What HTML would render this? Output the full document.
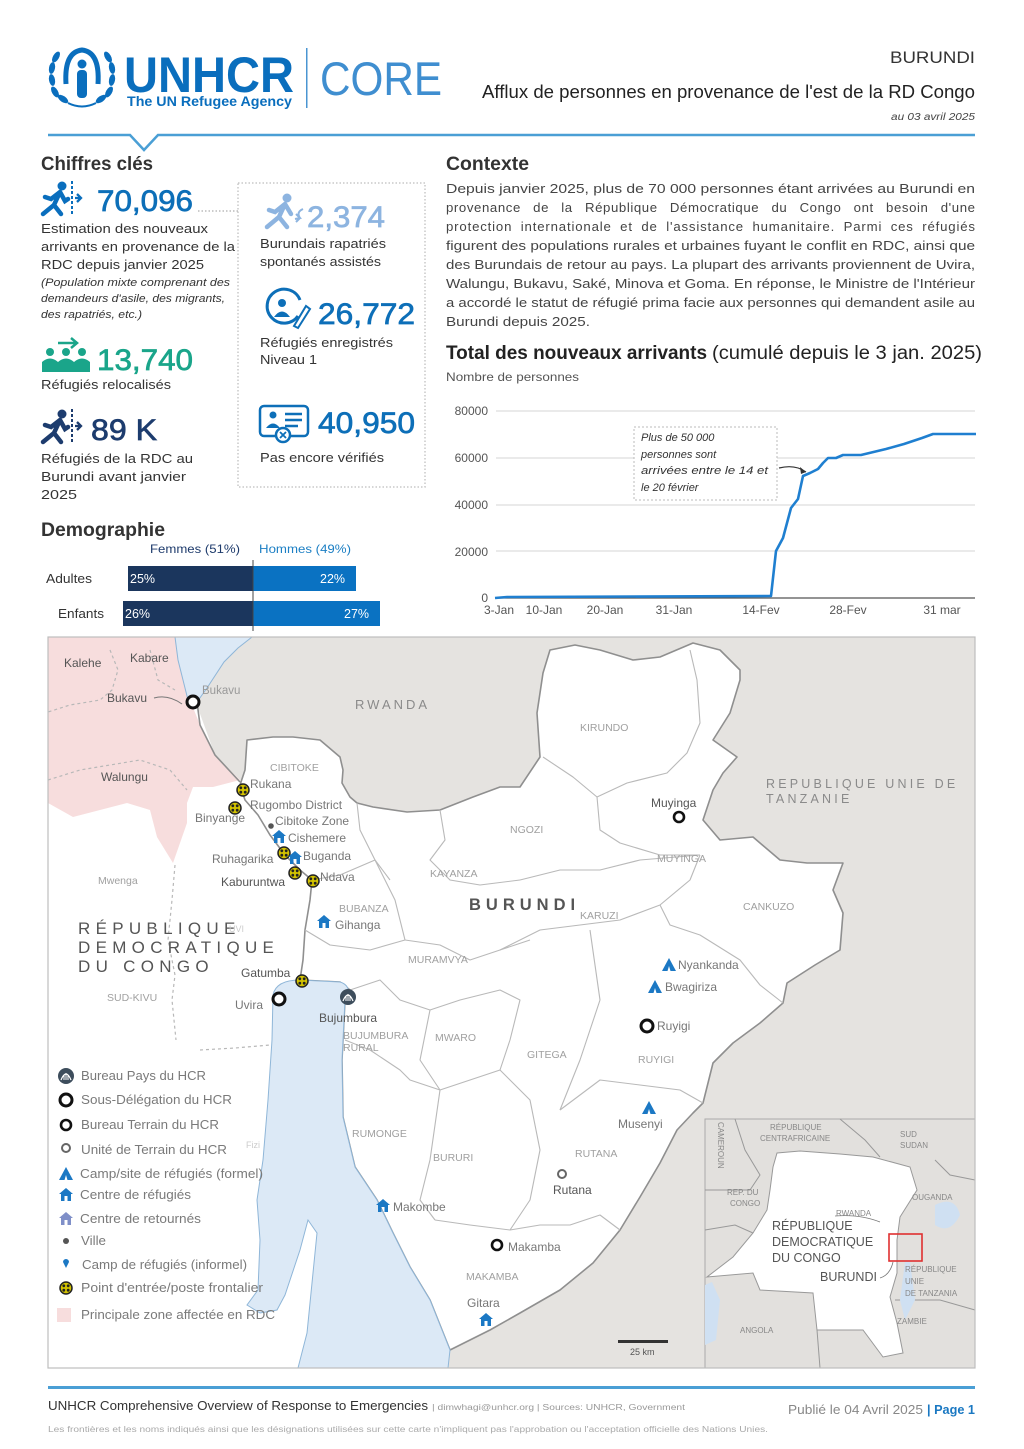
<!DOCTYPE html>
<html><head><meta charset="utf-8"><style>
html,body{margin:0;padding:0;background:#fff;}
svg{display:block;font-family:"Liberation Sans",sans-serif;}
</style></head><body>
<svg width="1024" height="1449" viewBox="0 0 1024 1449" xmlns="http://www.w3.org/2000/svg">
<defs>
 <g id="bp"><circle r="6" fill="#d2c200" stroke="#222" stroke-width="1.5"/><circle cx="-2.2" cy="-2.2" r="1.4" fill="#222"/><circle cx="2.2" cy="-2.2" r="1.4" fill="#222"/><circle cx="-2.2" cy="2.2" r="1.4" fill="#222"/><circle cx="2.2" cy="2.2" r="1.4" fill="#222"/></g>
 <g id="ring"><circle r="6" fill="#fff" stroke="#111" stroke-width="3"/></g>
 <g id="ringm"><circle r="5" fill="#fff" stroke="#111" stroke-width="2.6"/></g>
 <g id="ringu"><circle r="4" fill="#fff" stroke="#666" stroke-width="2"/></g>
 <g id="house"><path d="M-7,-1 L0,-7 L7,-1 L5,-1 L5,6 L1.5,6 L1.5,1 L-1.5,1 L-1.5,6 L-5,6 L-5,-1 Z" fill="#1b78c4"/></g>
 <g id="houser"><path d="M-7,-1 L0,-7 L7,-1 L5,-1 L5,6 L1.5,6 L1.5,1 L-1.5,1 L-1.5,6 L-5,6 L-5,-1 Z" fill="#7f8fc8"/></g>
 <g id="tent"><path d="M-7,6 L0,-7 L7,6 Z" fill="#1b78c4"/><path d="M-1.5,6 L0,1 L1.5,6 Z" fill="#fff"/></g>
 <g id="hq"><circle r="8" fill="#3d4d5c"/><path d="M-5,4 Q0,-8 5,4" stroke="#fff" stroke-width="1.2" fill="none"/><path d="M-2,4 V-1 M0,4 V-3 M2,4 V-1" stroke="#fff" stroke-width="1"/></g>
 <g id="walker">
  <circle cx="22" cy="5" r="4.5" stroke="none"/>
  <path d="M20,11 L11,18 L5,16 M20,11 L14,24 L3,33 M14,24 L21,33 M20,11 L25,20 L28,18" fill="none" stroke-width="4.5" stroke-linecap="round"/>
  <path d="M32,0 V33" stroke-width="2" stroke-dasharray="3,2" fill="none"/>
  <path d="M35,17 H41 M37,13 L41,17 L37,21" fill="none" stroke-width="2.3"/>
 </g>
</defs>

<!-- ===== HEADER ===== -->
<g fill="#0a6ebd">
 <g fill="#0a6ebd">
  <ellipse cx="55" cy="92" rx="3" ry="6" transform="rotate(-30 55 92)"/>
  <ellipse cx="52" cy="80" rx="3" ry="6" transform="rotate(-10 52 80)"/>
  <ellipse cx="52" cy="68" rx="3" ry="6" transform="rotate(10 52 68)"/>
  <ellipse cx="56" cy="57" rx="3" ry="6" transform="rotate(30 56 57)"/>
  <ellipse cx="63" cy="99" rx="3" ry="6" transform="rotate(-55 63 99)"/>
  <ellipse cx="109" cy="92" rx="3" ry="6" transform="rotate(30 109 92)"/>
  <ellipse cx="112" cy="80" rx="3" ry="6" transform="rotate(10 112 80)"/>
  <ellipse cx="112" cy="68" rx="3" ry="6" transform="rotate(-10 112 68)"/>
  <ellipse cx="108" cy="57" rx="3" ry="6" transform="rotate(-30 108 57)"/>
  <ellipse cx="101" cy="99" rx="3" ry="6" transform="rotate(55 101 99)"/>
  <path d="M68,103 Q82,110 96,103" stroke="#0a6ebd" stroke-width="2" fill="none"/>
  <path d="M66,84 Q64,52 82,50 Q100,52 98,84" stroke="#0a6ebd" stroke-width="5" fill="none"/>
  <circle cx="82" cy="64" r="4.5"/>
  <rect x="77" y="70" width="10" height="28" rx="4"/>
 </g>
 <text x="124" y="92" font-size="50" font-weight="bold" textLength="170" lengthAdjust="spacingAndGlyphs">UNHCR</text>
 <text x="127" y="106" font-size="14" font-weight="bold" textLength="165" lengthAdjust="spacingAndGlyphs">The UN Refugee Agency</text>
</g>
<rect x="306" y="48" width="1.5" height="60" fill="#4a95d2"/>
<text x="320" y="95" font-size="47" fill="#3f8ed0" textLength="122" lengthAdjust="spacingAndGlyphs">CORE</text>

<text x="975" y="63" font-size="17" fill="#333" text-anchor="end" textLength="85" lengthAdjust="spacingAndGlyphs">BURUNDI</text>
<text x="482" y="98" font-size="18.5" fill="#222" textLength="493" lengthAdjust="spacingAndGlyphs">Afflux de personnes en provenance de l'est de la RD Congo</text>
<text x="891" y="120" font-size="10" font-style="italic" fill="#444" textLength="84" lengthAdjust="spacingAndGlyphs">au 03 avril 2025</text>
<polyline points="48,135 130,135 144,150 158,135 975,135" fill="none" stroke="#4a9fd5" stroke-width="2.5"/>

<!-- ===== KEY FIGURES ===== -->
<text x="41" y="170" font-size="19" font-weight="bold" fill="#333" textLength="112" lengthAdjust="spacingAndGlyphs">Chiffres clés</text>
<use href="#walker" x="40" y="181" fill="#0a6ebd" stroke="#0a6ebd"/>
<text x="97" y="211" font-size="30" fill="#0d6fb8" stroke="#0d6fb8" stroke-width="0.7" textLength="96" lengthAdjust="spacingAndGlyphs">70,096</text>
<line x1="198" y1="211" x2="238" y2="211" stroke="#bbb" stroke-width="1.5" stroke-dasharray="1.5,2"/>
<g font-size="13" fill="#333">
<text x="41" y="233" textLength="167" lengthAdjust="spacingAndGlyphs">Estimation des nouveaux</text>
<text x="41" y="251" textLength="194" lengthAdjust="spacingAndGlyphs">arrivants en provenance de la</text>
<text x="41" y="269" textLength="163" lengthAdjust="spacingAndGlyphs">RDC depuis janvier 2025</text>
</g>
<g font-size="11" font-style="italic" fill="#333">
<text x="41" y="286" textLength="189" lengthAdjust="spacingAndGlyphs">(Population mixte comprenant des</text>
<text x="41" y="302" textLength="184" lengthAdjust="spacingAndGlyphs">demandeurs d'asile, des migrants,</text>
<text x="41" y="318" textLength="101" lengthAdjust="spacingAndGlyphs">des rapatriés, etc.)</text>
</g>
<g fill="#1aa58a" stroke="#1aa58a">
 <path d="M58,343 H76 M71,338 L77,343 L71,348" fill="none" stroke-width="2.5"/>
 <circle cx="50" cy="352" r="4" stroke="none"/><circle cx="66" cy="352" r="4" stroke="none"/><circle cx="82" cy="352" r="4" stroke="none"/>
 <path d="M42,362 Q50,355 58,362 V372 H42 Z M58,362 Q66,355 74,362 V372 H58 Z M74,362 Q82,355 90,362 V372 H74 Z" stroke="none"/>
</g>
<text x="97" y="370" font-size="30" fill="#1aa58a" stroke="#1aa58a" stroke-width="0.7" textLength="96" lengthAdjust="spacingAndGlyphs">13,740</text>
<text x="41" y="389" font-size="13" fill="#333" textLength="130" lengthAdjust="spacingAndGlyphs">Réfugiés relocalisés</text>
<use href="#walker" x="40" y="409" fill="#1d3c6e" stroke="#1d3c6e"/>
<text x="91" y="440" font-size="30" fill="#1d3c6e" stroke="#1d3c6e" stroke-width="0.7" textLength="66" lengthAdjust="spacingAndGlyphs">89 K</text>
<g font-size="13" fill="#333">
<text x="41" y="463" textLength="152" lengthAdjust="spacingAndGlyphs">Réfugiés de la RDC au</text>
<text x="41" y="481" textLength="145" lengthAdjust="spacingAndGlyphs">Burundi avant janvier</text>
<text x="41" y="499" textLength="36" lengthAdjust="spacingAndGlyphs">2025</text>
</g>

<rect x="238" y="183" width="187" height="304" fill="none" stroke="#c8c8c8" stroke-width="1.5" stroke-dasharray="1.5,2"/>
<g fill="#8db4e0" stroke="#8db4e0">
 <circle cx="287" cy="198" r="4.5" stroke="none"/>
 <path d="M285,204 L275,212 L269,210 M285,204 L279,217 L267,227 M279,217 L287,227 M285,204 L291,214" fill="none" stroke-width="4.5" stroke-linecap="round"/>
 <path d="M303,209 Q296,212 300,218 L296,222 M296,214 L300,218 L295,219" fill="none" stroke-width="2"/>
</g>
<text x="307" y="227" font-size="30" fill="#8db4e0" stroke="#8db4e0" stroke-width="0.7" textLength="78" lengthAdjust="spacingAndGlyphs">2,374</text>
<g font-size="13" fill="#333">
<text x="260" y="248" textLength="126" lengthAdjust="spacingAndGlyphs">Burundais rapatriés</text>
<text x="260" y="266" textLength="121" lengthAdjust="spacingAndGlyphs">spontanés assistés</text>
</g>
<g fill="none" stroke="#0d6fb8" stroke-width="3">
 <path d="M298,316 A17,17 0 1 1 300,300"/>
 <circle cx="282" cy="303" r="4" fill="#0d6fb8" stroke="none"/>
 <path d="M274,317 Q282,306 290,317 Z" fill="#0d6fb8" stroke="none"/>
 <path d="M294,326 L306,306 L310,309 L298,328 Z" stroke-width="2"/>
</g>
<text x="318" y="324" font-size="30" fill="#0d6fb8" stroke="#0d6fb8" stroke-width="0.7" textLength="97" lengthAdjust="spacingAndGlyphs">26,772</text>
<g font-size="13" fill="#333">
<text x="260" y="347" textLength="133" lengthAdjust="spacingAndGlyphs">Réfugiés enregistrés</text>
<text x="260" y="364" textLength="57" lengthAdjust="spacingAndGlyphs">Niveau 1</text>
</g>
<g fill="none" stroke="#0d6fb8" stroke-width="2.5">
 <rect x="260" y="406" width="48" height="30" rx="4"/>
 <circle cx="273" cy="415" r="3.5" fill="#0d6fb8" stroke="none"/>
 <path d="M266,428 Q273,419 280,428 Z" fill="#0d6fb8" stroke="none"/>
 <path d="M285,414 H302 M285,420 H302 M285,426 H298"/>
 <circle cx="283" cy="435" r="7" fill="#fff"/>
 <path d="M280,432 L286,438 M286,432 L280,438" stroke-width="1.8"/>
</g>
<text x="318" y="433" font-size="30" fill="#0d6fb8" stroke="#0d6fb8" stroke-width="0.7" textLength="97" lengthAdjust="spacingAndGlyphs">40,950</text>
<text x="260" y="462" font-size="13" fill="#333" textLength="124" lengthAdjust="spacingAndGlyphs">Pas encore vérifiés</text>

<!-- ===== DEMOGRAPHIE ===== -->
<text x="41" y="536" font-size="19" font-weight="bold" fill="#333" textLength="124" lengthAdjust="spacingAndGlyphs">Demographie</text>
<text x="150" y="553" font-size="12" fill="#1d3a6b" textLength="90" lengthAdjust="spacingAndGlyphs">Femmes (51%)</text>
<text x="259" y="553" font-size="12" fill="#1c7fc4" textLength="92" lengthAdjust="spacingAndGlyphs">Hommes (49%)</text>
<rect x="128" y="566" width="125" height="25" fill="#1b365d"/>
<rect x="253" y="566" width="103" height="25" fill="#0a72c2"/>
<rect x="123" y="601" width="130" height="25" fill="#1b365d"/>
<rect x="253" y="601" width="127" height="25" fill="#0a72c2"/>
<line x1="253" y1="560" x2="253" y2="631" stroke="#444" stroke-width="1"/>
<g font-size="12.5">
<text x="46" y="583" fill="#333" textLength="46" lengthAdjust="spacingAndGlyphs">Adultes</text>
<text x="58" y="618" fill="#333" textLength="46" lengthAdjust="spacingAndGlyphs">Enfants</text>
<text x="130" y="583" fill="#fff">25%</text>
<text x="320" y="583" fill="#fff">22%</text>
<text x="125" y="618" fill="#fff">26%</text>
<text x="344" y="618" fill="#fff">27%</text>
</g>

<!-- ===== CONTEXTE ===== -->
<text x="446" y="170" font-size="19" font-weight="bold" fill="#333" textLength="83" lengthAdjust="spacingAndGlyphs">Contexte</text>
<g font-size="13.2" fill="#444">
<text x="446" y="193" textLength="529" lengthAdjust="spacingAndGlyphs">Depuis janvier 2025, plus de 70 000 personnes étant arrivées au Burundi en</text>
<text x="446" y="212" word-spacing="8" textLength="529" lengthAdjust="spacing">provenance de la République Démocratique du Congo ont besoin d'une</text>
<text x="446" y="231" word-spacing="4" textLength="529" lengthAdjust="spacing">protection internationale et de l'assistance humanitaire. Parmi ces réfugiés</text>
<text x="446" y="250" textLength="529" lengthAdjust="spacingAndGlyphs">figurent des populations rurales et urbaines fuyant le conflit en RDC, ainsi que</text>
<text x="446" y="269" textLength="529" lengthAdjust="spacingAndGlyphs">des Burundais de retour au pays. La plupart des arrivants proviennent de Uvira,</text>
<text x="446" y="288" textLength="529" lengthAdjust="spacingAndGlyphs">Walungu, Bukavu, Saké, Minova et Goma. En réponse, le Ministre de l'Intérieur</text>
<text x="446" y="307" textLength="529" lengthAdjust="spacingAndGlyphs">a accordé le statut de réfugié prima facie aux personnes qui demandent asile au</text>
<text x="446" y="326" textLength="144" lengthAdjust="spacingAndGlyphs">Burundi depuis 2025.</text>
</g>
<text x="446" y="359" font-size="19" font-weight="bold" fill="#222" textLength="261" lengthAdjust="spacingAndGlyphs">Total des nouveaux arrivants</text>
<text x="712" y="359" font-size="19" fill="#222" textLength="270" lengthAdjust="spacingAndGlyphs">(cumulé depuis le 3 jan. 2025)</text>
<text x="446" y="381" font-size="12" fill="#555" textLength="133" lengthAdjust="spacingAndGlyphs">Nombre de personnes</text>

<!-- ===== CHART ===== -->
<g stroke="#dedede" stroke-width="1.2">
 <line x1="496" y1="411" x2="975" y2="411"/>
 <line x1="496" y1="458" x2="975" y2="458"/>
 <line x1="496" y1="505" x2="975" y2="505"/>
 <line x1="496" y1="551" x2="975" y2="551"/>
</g>
<line x1="496" y1="598" x2="975" y2="598" stroke="#555" stroke-width="1.2"/>
<g font-size="12" fill="#555" text-anchor="end">
 <text x="488" y="415">80000</text>
 <text x="488" y="462">60000</text>
 <text x="488" y="509">40000</text>
 <text x="488" y="556">20000</text>
 <text x="488" y="602">0</text>
</g>
<g font-size="12" fill="#555" text-anchor="middle">
 <text x="499" y="614">3-Jan</text>
 <text x="544" y="614">10-Jan</text>
 <text x="605" y="614">20-Jan</text>
 <text x="674" y="614">31-Jan</text>
 <text x="761" y="614">14-Fev</text>
 <text x="848" y="614">28-Fev</text>
 <text x="942" y="614">31 mar</text>
</g>
<polyline fill="none" stroke="#1f7fd0" stroke-width="2.6" stroke-linejoin="round" points="495,598 507,597 771,596 776,551 783,538 791,508 798,499 803,476 810,473 818,469 823,463 828,458 836,458 843,455 861,455 886,449 904,444 922,438 933,434 976,434"/>
<rect x="634" y="427" width="143" height="73" fill="#fff" stroke="#bbb" stroke-dasharray="2,2"/>
<g font-size="11" font-style="italic" fill="#333">
 <text x="641" y="441">Plus de 50 000</text>
 <text x="641" y="458">personnes sont</text>
 <text x="641" y="474" textLength="127" lengthAdjust="spacingAndGlyphs">arrivées entre le 14 et</text>
 <text x="641" y="491">le 20 février</text>
</g>
<path d="M779,468 Q795,464 806,472" fill="none" stroke="#333" stroke-width="1.2"/>
<path d="M806,472 L800,467 L801,474 Z" fill="#333"/>

<!-- ===== MAP ===== -->
<g>
 <rect x="48" y="637" width="927" height="731" fill="#e5e3e0"/>
 <polygon fill="#fff" points="48,637 178,637 195,700 215,755 242,782 258,815 270,835 285,855 300,870 312,880 310,900 305,930 303,960 300,980 290,1000 300,1200 320,1220 320,1368 48,1368"/>
 <polygon fill="#f7dddd" points="48,637 178,637 183,680 190,700 200,725 215,755 240,780 213,787 193,787 187,803 187,823 180,843 173,863 157,837 150,810 127,803 100,810 73,817 48,803"/>
 <g fill="none" stroke="#b8b8b8" stroke-width="1.2" stroke-dasharray="3,3">
  <polyline points="110,650 118,670 112,690 100,700 70,705 48,712"/>
  <polyline points="48,780 80,770 110,765 140,760 170,770 187,790"/>
  <polyline points="175,865 172,900 168,940 175,975 172,1000 176,1040"/>
  <polyline points="200,1050 235,1048 270,1045"/>
  <polyline points="150,650 158,680 175,690"/>
 </g>
 <polygon fill="#fff" stroke="#8f8f8f" stroke-width="1.6" stroke-linejoin="round" points="247,740 273,737 293,737 320,740 340,757 343,770 342,783 350,797 357,803 373,807 407,812 440,810 473,797 500,787 520,787 540,757 537,713 543,673 550,650 575,645 600,650 633,660 660,657 693,643 720,650 740,670 740,680 730,713 713,740 737,757 723,773 713,790 703,820 720,840 753,837 780,860 807,863 843,863 833,890 843,913 840,950 815,965 787,983 783,1003 760,1023 733,1043 713,1063 703,1103 693,1113 677,1130 660,1163 640,1197 620,1230 593,1263 560,1290 520,1313 490,1330 450,1350 430,1300 410,1267 393,1233 377,1200 355,1167 343,1117 342,1060 345,1000 350,990 340,982 300,980 303,960 305,930 310,900 312,880 300,870 285,855 270,835 258,815 245,800 240,785 245,770"/>
 <polyline fill="none" stroke="#8f8f8f" stroke-width="1.6" points="197,702 200,725 215,755 240,782"/>
 <g fill="none" stroke="#b9b9b9" stroke-width="1.1" stroke-linejoin="round">
  <polyline points="357,803 360,830 375,860 390,880"/>
  <polyline points="312,880 340,875 375,860"/>
  <polyline points="375,860 395,900 405,940"/>
  <polyline points="305,930 330,945 370,950 405,940"/>
  <polyline points="405,940 440,945 470,960 500,950 530,940"/>
  <polyline points="440,810 445,840 430,860 450,880 480,885 520,880"/>
  <polyline points="543,757 573,777 597,797 627,783 667,773 687,753 700,723 697,680 690,650"/>
  <polyline points="597,797 600,830 620,843 660,855 700,855"/>
  <polyline points="520,880 560,870 600,870 640,860 700,855"/>
  <polyline points="500,950 540,930 580,925 620,920 660,905 690,880 700,855"/>
  <polyline points="660,905 670,925 700,935 740,960 760,985 783,1003"/>
  <polyline points="350,990 380,980 400,1000 430,1010 420,1060 440,1090"/>
  <polyline points="430,1010 460,1000 500,990 520,1000 510,1040 500,1070"/>
  <polyline points="345,1040 370,1050 400,1070 410,1080 440,1090"/>
  <polyline points="440,1090 430,1160 420,1200 435,1220"/>
  <polyline points="500,1070 530,1100 540,1150 530,1200 510,1230"/>
  <polyline points="590,930 600,1000 580,1060 560,1110"/>
  <polyline points="560,1110 600,1080 640,1085 680,1090 703,1103"/>
  <polyline points="435,1220 470,1225 510,1230 540,1225 570,1225 600,1215 620,1230"/>
  <polyline points="500,1070 470,1080 440,1090"/>
 </g>
 <polygon fill="#dce9f6" stroke="#8fb6d8" stroke-width="1" points="175,637 252,637 238,648 224,662 207,688 197,702 188,700 183,680 178,660"/>
 <path fill="#dce9f6" stroke="#8fb6d8" stroke-width="1" d="M273,995 Q276,980 300,980 L340,982 Q350,985 348,995 L345,1000 L342,1060 L343,1117 L355,1167 L377,1200 L393,1233 L410,1267 L430,1300 L450,1350 L448,1368 L298,1368 L307,1333 L317,1233 L308,1220 L300,1250 L285,1295 L277,1310 L260,1313 L247,1305 L258,1290 L260,1240 L257,1200 L263,1160 L268,1100 L272,1040 Z"/>

 <g font-size="12" fill="#555">
  <text x="64" y="667">Kalehe</text>
  <text x="130" y="662">Kabare</text>
  <text x="107" y="702">Bukavu</text>
  <text x="101" y="781">Walungu</text>
 </g>
 <path d="M154,698 Q168,694 182,704" fill="none" stroke="#777" stroke-width="1"/>
 <text x="202" y="694" font-size="11.5" fill="#999">Bukavu</text>
 <text x="355" y="709" font-size="13" fill="#8a8a8a" letter-spacing="3">RWANDA</text>
 <g font-size="10.5" fill="#a0a0a0">
  <text x="270" y="771">CIBITOKE</text>
  <text x="580" y="731">KIRUNDO</text>
  <text x="510" y="833">NGOZI</text>
  <text x="657" y="862">MUYINGA</text>
  <text x="430" y="877">KAYANZA</text>
  <text x="580" y="919">KARUZI</text>
  <text x="743" y="910">CANKUZO</text>
  <text x="339" y="912">BUBANZA</text>
  <text x="408" y="963">MURAMVYA</text>
  <text x="343" y="1039">BUJUMBURA</text>
  <text x="343" y="1051">RURAL</text>
  <text x="435" y="1041">MWARO</text>
  <text x="527" y="1058">GITEGA</text>
  <text x="638" y="1063">RUYIGI</text>
  <text x="352" y="1137">RUMONGE</text>
  <text x="575" y="1157">RUTANA</text>
  <text x="433" y="1161">BURURI</text>
  <text x="466" y="1280">MAKAMBA</text>
  <text x="98" y="884">Mwenga</text>
  <text x="107" y="1001">SUD-KIVU</text>
  <text x="246" y="1148" font-size="9" fill="#ccc">Fizi</text>
 </g>
 <text x="766" y="788" font-size="12.5" fill="#8a8a8a" letter-spacing="3.2">REPUBLIQUE UNIE DE</text>
 <text x="766" y="803" font-size="12.5" fill="#8a8a8a" letter-spacing="3.2">TANZANIE</text>
 <text x="469" y="910" font-size="16.5" font-weight="bold" fill="#555" letter-spacing="5">BURUNDI</text>
 <g font-size="17" fill="#555" letter-spacing="5.3">
  <text x="78" y="934">RÉPUBLIQUE</text>
  <text x="78" y="953">DEMOCRATIQUE</text>
  <text x="78" y="972">DU CONGO</text>
 </g>
 <text x="229" y="932" font-size="9" fill="#ccc">UVI</text>

 <g font-size="12" fill="#777">
  <text x="250" y="788">Rukana</text>
  <text x="250" y="809">Rugombo District</text>
  <text x="275" y="825">Cibitoke Zone</text>
  <text x="288" y="842">Cishemere</text>
  <text x="303" y="860">Buganda</text>
  <text x="320" y="881">Ndava</text>
  <text x="335" y="929">Gihanga</text>
  <text x="678" y="969">Nyankanda</text>
  <text x="665" y="991">Bwagiriza</text>
  <text x="657" y="1030">Ruyigi</text>
  <text x="618" y="1128">Musenyi</text>
  <text x="393" y="1211">Makombe</text>
  <text x="508" y="1251">Makamba</text>
  <text x="467" y="1307">Gitara</text>
  <text x="195" y="822">Binyange</text>
  <text x="212" y="863">Ruhagarika</text>
  <text x="235" y="1009">Uvira</text>
 </g>
 <g font-size="12" fill="#555">
  <text x="221" y="886">Kaburuntwa</text>
  <text x="241" y="977">Gatumba</text>
  <text x="651" y="807">Muyinga</text>
  <text x="319" y="1022">Bujumbura</text>
  <text x="553" y="1194">Rutana</text>
 </g>

 <use href="#ring" x="193" y="702"/>
 <use href="#bp" x="243" y="790"/>
 <use href="#bp" x="235" y="808"/>
 <circle cx="271" cy="826" r="2.8" fill="#555"/>
 <use href="#house" x="279" y="837"/>
 <use href="#bp" x="284" y="853"/>
 <use href="#house" x="295" y="858"/>
 <use href="#bp" x="295" y="873"/>
 <use href="#bp" x="313" y="881"/>
 <use href="#house" x="324" y="922"/>
 <use href="#bp" x="302" y="981"/>
 <use href="#ring" x="279" y="999"/>
 <use href="#hq" x="348" y="997"/>
 <use href="#ringm" x="679" y="817"/>
 <use href="#tent" x="669" y="965"/>
 <use href="#tent" x="655" y="987"/>
 <use href="#ring" x="647" y="1026"/>
 <use href="#tent" x="649" y="1108"/>
 <use href="#ringu" x="562" y="1174"/>
 <use href="#house" x="383" y="1206"/>
 <use href="#ringm" x="497" y="1245"/>
 <use href="#house" x="486" y="1320"/>

 <use href="#hq" x="66" y="1076"/>
 <use href="#ring" x="66" y="1100"/>
 <use href="#ringm" x="66" y="1125"/>
 <use href="#ringu" x="66" y="1148"/>
 <use href="#tent" x="66" y="1174"/>
 <use href="#house" x="66" y="1195"/>
 <use href="#houser" x="66" y="1219"/>
 <circle cx="66" cy="1241" r="3" fill="#555"/>
 <path d="M66,1268 L63,1262 A3,3 0 1 1 69,1262 Z" fill="#1b78c4"/>
 <use href="#bp" x="66" y="1288"/>
 <rect x="57" y="1308" width="14" height="14" fill="#f7dddd"/>
 <g font-size="12.5" fill="#7a7a7a">
  <text x="81" y="1080" textLength="125" lengthAdjust="spacingAndGlyphs">Bureau Pays du HCR</text>
  <text x="81" y="1104" textLength="151" lengthAdjust="spacingAndGlyphs">Sous-Délégation du HCR</text>
  <text x="81" y="1129" textLength="138" lengthAdjust="spacingAndGlyphs">Bureau Terrain du HCR</text>
  <text x="81" y="1154" textLength="146" lengthAdjust="spacingAndGlyphs">Unité de Terrain du HCR</text>
  <text x="80" y="1178" textLength="183" lengthAdjust="spacingAndGlyphs">Camp/site de réfugiés (formel)</text>
  <text x="80" y="1199" textLength="111" lengthAdjust="spacingAndGlyphs">Centre de réfugiés</text>
  <text x="80" y="1223" textLength="121" lengthAdjust="spacingAndGlyphs">Centre de retournés</text>
  <text x="81" y="1245" textLength="25" lengthAdjust="spacingAndGlyphs">Ville</text>
  <text x="82" y="1269" textLength="165" lengthAdjust="spacingAndGlyphs">Camp de réfugiés (informel)</text>
  <text x="81" y="1292" textLength="182" lengthAdjust="spacingAndGlyphs">Point d'entrée/poste frontalier</text>
  <text x="81" y="1319" textLength="194" lengthAdjust="spacingAndGlyphs">Principale zone affectée en RDC</text>
 </g>

 <rect x="618" y="1340" width="50" height="3" fill="#333"/>
 <text x="630" y="1355" font-size="9" fill="#555">25 km</text>

 <rect x="705" y="1119" width="270" height="249" fill="#e2e0dd" stroke="#aaa" stroke-width="1"/>
 <g fill="none" stroke="#999" stroke-width="1">
  <polyline points="735,1119 745,1150 760,1175 750,1190 705,1190"/>
  <polyline points="840,1119 865,1140 880,1157"/>
  <polyline points="935,1160 950,1175 975,1180"/>
  <polyline points="705,1230 735,1225 753,1233"/>
  <polyline points="817,1330 820,1368"/>
  <polyline points="895,1300 940,1300 975,1310"/>
 </g>
 <polygon fill="#fff" stroke="#999" stroke-width="1" points="777,1153 800,1151 840,1154 873,1157 910,1167 917,1190 900,1217 897,1240 897,1273 890,1297 897,1323 903,1353 883,1357 863,1330 817,1330 813,1293 760,1290 753,1273 707,1277 733,1257 753,1233 767,1210 770,1190 773,1167"/>
 <path d="M705,1285 L712,1282 L720,1300 L716,1340 L705,1345 Z" fill="#cfe0f2"/>
 <path d="M935,1205 Q955,1195 960,1215 Q950,1235 935,1225 Z" fill="#cfe0f2"/>
 <path d="M905,1262 L910,1262 L915,1300 L905,1320 L900,1300 Z" fill="#cfe0f2"/>
 <rect x="889" y="1234" width="33" height="27" fill="none" stroke="#e03030" stroke-width="1.6"/>
 <path d="M835,1216 Q860,1214 880,1222" fill="none" stroke="#777" stroke-width="0.8"/>
 <path d="M880,1278 Q890,1275 893,1262" fill="none" stroke="#777" stroke-width="0.8"/>
 <g font-size="8" fill="#888">
  <text x="770" y="1130">RÉPUBLIQUE</text>
  <text x="760" y="1141">CENTRAFRICAINE</text>
  <text x="900" y="1137">SUD</text>
  <text x="900" y="1148">SUDAN</text>
  <text x="727" y="1195">REP. DU</text>
  <text x="730" y="1206">CONGO</text>
  <text x="912" y="1200">OUGANDA</text>
  <text x="836" y="1216">RWANDA</text>
  <text x="905" y="1272">RÉPUBLIQUE</text>
  <text x="905" y="1284">UNIE</text>
  <text x="905" y="1296">DE TANZANIA</text>
  <text x="897" y="1324">ZAMBIE</text>
  <text x="740" y="1333">ANGOLA</text>
  <text x="0" y="0" transform="translate(718,1122) rotate(90)">CAMEROUN</text>
 </g>
 <g font-size="12.5" fill="#555">
  <text x="772" y="1230">RÉPUBLIQUE</text>
  <text x="772" y="1246">DEMOCRATIQUE</text>
  <text x="772" y="1262">DU CONGO</text>
  <text x="820" y="1281">BURUNDI</text>
 </g>
 <rect x="48" y="637" width="927" height="731" fill="none" stroke="#bdbdbd" stroke-width="1.2"/>
</g>

<!-- ===== FOOTER ===== -->
<rect x="48" y="1386" width="927" height="3" fill="#4a9fd5"/>
<text x="48" y="1410" font-size="12.5" fill="#333" textLength="380" lengthAdjust="spacingAndGlyphs">UNHCR Comprehensive Overview of Response to Emergencies</text>
<text x="432" y="1410" font-size="8" fill="#999" textLength="253" lengthAdjust="spacingAndGlyphs">| dimwhagi@unhcr.org | Sources: UNHCR, Government</text>
<text x="788" y="1414" font-size="13" fill="#888" textLength="135" lengthAdjust="spacingAndGlyphs">Publié le 04 Avril 2025</text>
<text x="927" y="1414" font-size="13" fill="#1a78c2" font-weight="bold" textLength="48" lengthAdjust="spacingAndGlyphs">| Page 1</text>
<text x="48" y="1432" font-size="8" fill="#aaa" textLength="720" lengthAdjust="spacingAndGlyphs">Les frontières et les noms indiqués ainsi que les désignations utilisées sur cette carte n'impliquent pas l'approbation ou l'acceptation officielle des Nations Unies.</text>
</svg>
</body></html>
